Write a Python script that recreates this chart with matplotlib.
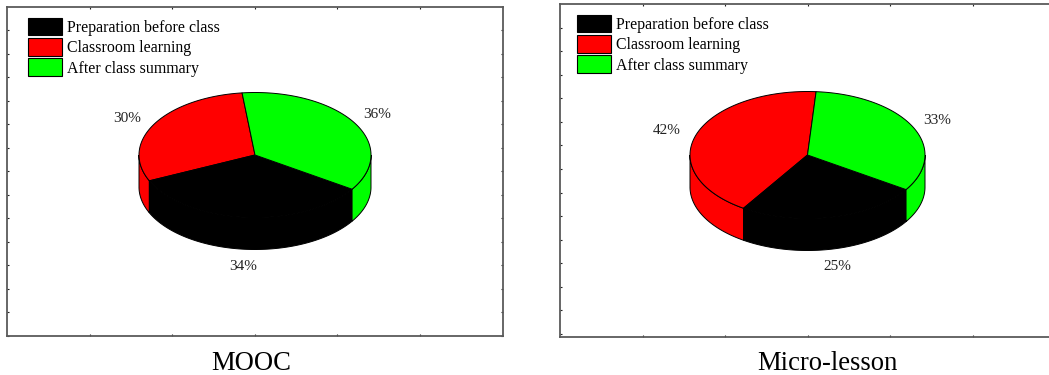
import numpy as np
import matplotlib
matplotlib.use("Agg")
import matplotlib.pyplot as plt
from matplotlib.patches import Patch

plt.rcParams["font.family"] = ["Liberation Serif", "DejaVu Serif"]

# Stage shares (percent), listed counter-clockwise from each pie's start angle
stage_names = ["Classroom learning", "Preparation before class", "After class summary"]
stage_colors = ["#ff0000", "#000000", "#00ff00"]
legend_order = [1, 0, 2]
mooc_shares = [30, 34, 36]
micro_shares = [42, 25, 33]
panel_titles = ["MOOC", "Micro-lesson"]

W, H = 1049, 375
fig = plt.figure(figsize=(W / 100, H / 100), dpi=100, facecolor="white")
FRAME = "#5a5a5a"


def panel(box, shares, start, centre, radii, depth, labels, title, title_xy, legend_xy):
    """Draw one framed panel; box and placements are given in figure pixels."""
    x0, y0, x1, y1 = box
    ax = fig.add_axes([x0 / W, 1 - y1 / H, (x1 - x0) / W, (y1 - y0) / H])
    ax.set_xlim(x0, x1)
    ax.set_ylim(y1, y0)
    ax.set_facecolor("white")
    for s in ax.spines.values():
        s.set_color(FRAME)
        s.set_linewidth(1.3)
    ax.set_xticks(np.arange(x0 + 82.6, x1, 82.6))
    ax.set_yticks(np.arange(y0 + 23.5, y1, 23.5))
    ax.set_xticklabels([])
    ax.set_yticklabels([])
    ax.tick_params(direction="in", length=1.5, width=0.8, color="#222222",
                   top=True, right=True)

    cx, cy = centre
    rx, ry = radii
    edges = start + np.cumsum([0] + list(shares)) * 3.6

    def arc(a, b):
        t = np.radians(np.linspace(a, b, 200))
        return cx + rx * np.cos(t), cy - ry * np.sin(t)

    # Cylinder wall: only the part of each slice on the front half is visible
    for a, b, col in zip(edges[:-1], edges[1:], stage_colors):
        for lo, hi in [(a, b), (a + 360, b + 360), (a - 360, b - 360)]:
            lo2, hi2 = max(lo, 180), min(hi, 360)
            if hi2 > lo2:
                xs, ys = arc(lo2, hi2)
                ax.fill(np.r_[xs, xs[::-1]], np.r_[ys, ys[::-1] + depth],
                        facecolor=col, edgecolor="black", linewidth=0.7, zorder=2)

    # Top face
    for a, b, col in zip(edges[:-1], edges[1:], stage_colors):
        xs, ys = arc(a, b)
        ax.fill(np.r_[cx, xs], np.r_[cy, ys], facecolor=col,
                edgecolor="black", linewidth=0.7, joinstyle="round", zorder=3)

    for share, (lx, ly) in zip(shares, labels):
        ax.text(lx, ly, f"{share}%", ha="center", va="center", fontsize=11,
                color="#222222", zorder=4)

    handles = [Patch(facecolor=stage_colors[i], edgecolor="black", linewidth=0.8,
                     label=stage_names[i]) for i in legend_order]
    ax.legend(handles=handles, loc="upper left",
              bbox_to_anchor=((legend_xy[0] - x0) / (x1 - x0), 1 - (legend_xy[1] - y0) / (y1 - y0)),
              frameon=False, fontsize=11.4, borderpad=0, borderaxespad=0,
              handlelength=2.21, handleheight=1.32, handletextpad=0.28,
              labelspacing=0.14)
    fig.text(title_xy[0] / W, 1 - title_xy[1] / H, title, ha="center", va="center",
             fontsize=19.2, color="black")


panel((7, 6.5, 502.5, 336), mooc_shares, 96.4, (255, 155), (116, 62.5), 32,
      [(127, 118), (243, 267), (377, 115)], panel_titles[0], (251, 363.5), (27.5, 18))
panel((560, 4.5, 1055, 337), micro_shares, 85.8, (807.5, 155), (117.5, 63.5), 32,
      [(667, 131), (837, 266), (937, 121)], panel_titles[1], (827, 363.5), (576.5, 15))

fig.savefig("out.png", dpi=100, facecolor="white")
